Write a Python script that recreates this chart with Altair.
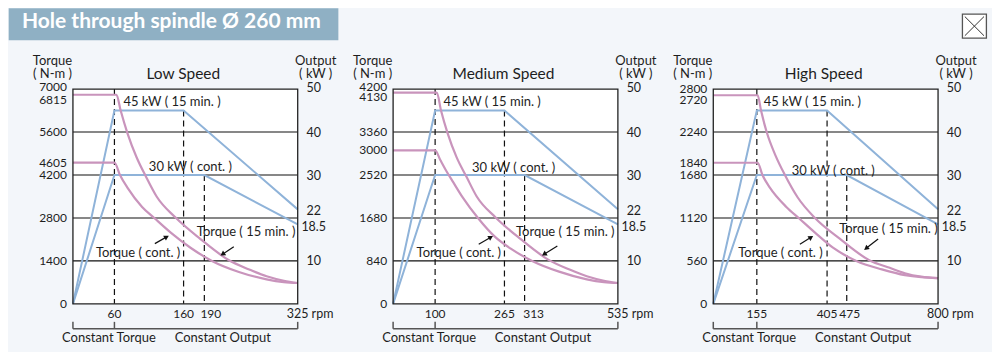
import math
import altair as alt
import pandas as pd

# ---------------- data ----------------
panel_titles = ["Low Speed", "Medium Speed", "High Speed"]
rpm_max = [325, 535, 800]
torque_max = [7000, 4200, 2800]
break_rpm = [60, 100, 155]

out15_rpm = [[0, 60, 160, 325], [0, 100, 265, 535], [0, 155, 405, 800]]
out15_kw = [0, 45, 45, 22]
outc_rpm = [[0, 60, 190, 325], [0, 100, 313, 535], [0, 155, 475, 800]]
outc_kw = [0, 30, 30, 18.5]

t15_rpm = [
    [0, 63, 69, 79, 92, 106, 121, 148, 184, 225, 255, 280, 305, 325],
    [0, 104, 114, 130, 151, 175, 199, 244, 303, 370, 420, 461, 502, 535],
    [0, 158, 170, 190, 222, 255, 300, 362, 450, 555, 628, 682, 740, 800],
]
t15_nm = [
    [6815, 6815, 6300, 5550, 4780, 4130, 3500, 2820, 2120, 1430, 1120, 900, 755, 680],
    [4130, 4130, 3780, 3330, 2870, 2480, 2100, 1690, 1270, 860, 670, 540, 453, 408],
    [2720, 2720, 2520, 2240, 1930, 1680, 1390, 1120, 850, 570, 470, 400, 355, 335],
]
tc_rpm = [
    [0, 60, 68, 79, 100, 118, 141, 170, 201, 240, 280, 305, 325],
    [0, 100, 112, 126, 143, 166, 202, 242, 280, 331, 395, 461, 502, 535],
    [0, 158, 175, 202, 260, 305, 361, 426, 509, 600, 682, 740, 800],
]
tc_nm = [
    [4605, 4605, 4200, 3780, 3160, 2790, 2330, 1830, 1400, 1040, 800, 710, 680],
    [3000, 3000, 2818, 2609, 2380, 2076, 1678, 1314, 1080, 840, 630, 480, 426, 408],
    [1840, 1840, 1680, 1512, 1264, 1116, 932, 732, 560, 450, 375, 348, 335],
]

torque_ticks = [[0, 1400, 2800, 4200, 5600], [0, 840, 1680, 2520, 3360], [0, 560, 1120, 1680, 2240]]
torque_grid = [[1400, 2800, 4200, 5600], [840, 1680, 2520, 3360], [560, 1120, 1680, 2240]]
torque_flat15 = [6815, 4130, 2720]
torque_flatc = [4605, 3000, 1840]
output_ticks = [10, 30, 40]
output_top = 50
output_end = [22, 18.5]
x_ticks = [[60, 160], [100, 265], [155, 405]]
x_ticks_third = [190, 313, 475]

banner_title = "Hole through spindle Ø 260 mm"

# ---------------- style ----------------
W, H = 225, 215
BLUE = "#8fb3d9"
PINK = "#c994bc"
BG = "#f3f6fa"
BANNER = "#8fb0c4"
FONT = "Lato"
TXT = "#1e1e1e"
TICK_FS = 12

one = pd.DataFrame({"k": [0]})


def vtext(text, x, y, align="center", size=13, weight="normal", color=TXT):
    return alt.Chart(one).mark_text(
        text=text, align=align, baseline="middle", font=FONT,
        fontSize=size, fontWeight=weight, color=color,
    ).encode(x=alt.value(x), y=alt.value(y))


def vrule(x, y, x2, y2, color="#111", width=1.2):
    return alt.Chart(one).mark_rule(color=color, strokeWidth=width).encode(
        x=alt.value(x), y=alt.value(y), x2=alt.value(x2), y2=alt.value(y2))


def arrow(tail, head):
    (tx, ty), (hx, hy) = tail, head
    ang = math.degrees(math.atan2(hy - ty, hx - tx)) % 360
    L = math.hypot(hx - tx, hy - ty)
    ux, uy = (hx - tx) / L, (hy - ty) / L
    line = vrule(tx, ty, hx - 3 * ux, hy - 3 * uy, width=1.2)
    tip = alt.Chart(one).mark_point(
        shape="triangle-right", filled=True, size=32, color="#111",
        angle=round(ang, 1), opacity=1,
    ).encode(x=alt.value(hx - 2.5 * ux), y=alt.value(hy - 2.5 * uy))
    return [line, tip]


lab30 = [(76, 78), (79, 78.5), (78.5, 82)]
lab_t15 = [(124, 142.7), (123, 142.7), (126, 140)]
lab_tc = [(23, 163.7), (23.5, 164.3), (25, 164.3)]
arr_c = [((82, 154.7), (96, 146.7)), ((85.7, 155.3), (100, 147)), ((86.7, 155.3), (100, 147))]
arr_15 = [((161, 157.7), (147.7, 166.7)), ((164.4, 157), (149, 166.7)), ((165, 150), (151, 161))]
top_dy = [-2.5, -2.5, 0]
flat_dy = [5.5, 4.5, 4.5]
third_dx = [6.5, 9, 3]


def panel(i):
    xs = alt.Scale(domain=[0, rpm_max[i]], nice=False, zero=True)
    ts = alt.Scale(domain=[0, torque_max[i]], nice=False, zero=True)
    ps = alt.Scale(domain=[0, 50], nice=False, zero=True)

    def X(f):
        return alt.X(f, type="quantitative", scale=xs, axis=None)

    def YT(f):
        return alt.Y(f, type="quantitative", scale=ts, axis=None)

    def YP(f):
        return alt.Y(f, type="quantitative", scale=ps, axis=None)

    layers = []
    if i == 0:
        layers.append(alt.Chart(one).mark_rect(color=BG).encode(
            x=alt.value(-64.3), x2=alt.value(919.7), y=alt.value(-81), y2=alt.value(263)))
        layers.append(alt.Chart(one).mark_rect(color=BANNER).encode(
            x=alt.value(-64.3), x2=alt.value(265.7), y=alt.value(-81), y2=alt.value(-49)))
        layers.append(vtext(banner_title, -51, -67.3, align="left", size=21,
                            weight="bold", color="white"))

    # plot background
    layers.append(alt.Chart(one).mark_rect(color="#ffffff").encode(
        x=alt.value(0), x2=alt.value(W), y=alt.value(0), y2=alt.value(H)))

    # grid lines
    layers.append(alt.Chart(pd.DataFrame({"v": torque_grid[i]})).mark_rule(
        color="#111", strokeWidth=1.1).encode(y=YT("v"), x=alt.value(0), x2=alt.value(W)))

    # dashed verticals
    dash = pd.DataFrame({"x": [break_rpm[i], out15_rpm[i][2], outc_rpm[i][2]],
                         "top": [output_top, out15_kw[2], outc_kw[2]]})
    layers.append(alt.Chart(dash).mark_rule(color="#111", strokeWidth=1.2, strokeDash=[6, 4]).encode(
        x=X("x"), y=YP("top"), y2=alt.value(H)))

    # output lines
    pw = pd.DataFrame({
        "rpm": out15_rpm[i] + outc_rpm[i],
        "kw": out15_kw + outc_kw,
        "s": ["15"] * 4 + ["c"] * 4,
        "o": list(range(4)) + list(range(4)),
    })
    layers.append(alt.Chart(pw).mark_line(color=BLUE, strokeWidth=2).encode(
        x=X("rpm"), y=YP("kw"), detail="s:N", order="o:Q"))

    # torque curves
    tq = pd.DataFrame({
        "rpm": t15_rpm[i] + tc_rpm[i],
        "nm": t15_nm[i] + tc_nm[i],
        "s": ["15"] * len(t15_rpm[i]) + ["c"] * len(tc_rpm[i]),
        "o": list(range(len(t15_rpm[i]))) + list(range(len(tc_rpm[i]))),
    })
    layers.append(alt.Chart(tq).mark_line(color=PINK, strokeWidth=2.2, interpolate="monotone").encode(
        x=X("rpm"), y=YT("nm"), detail="s:N", order="o:Q"))

    # frame
    layers.append(alt.Chart(one).mark_rect(fillOpacity=0, stroke="#222", strokeWidth=1.3).encode(
        x=alt.value(0), x2=alt.value(W), y=alt.value(0), y2=alt.value(H)))

    # left labels
    lt = pd.DataFrame({"v": torque_ticks[i] + [torque_flatc[i]]})
    lt["t"] = lt["v"].astype(str)
    layers.append(alt.Chart(lt).mark_text(align="right", baseline="middle", font=FONT,
                                          fontSize=TICK_FS, color=TXT).encode(
        y=YT("v"), x=alt.value(-6), text="t:N"))
    for val, dy in [(torque_max[i], top_dy[i]), (torque_flat15[i], flat_dy[i])]:
        layers.append(alt.Chart(pd.DataFrame({"v": [val], "t": [str(val)]})).mark_text(
            align="right", baseline="middle", font=FONT, fontSize=TICK_FS, color=TXT, dy=dy).encode(
            y=YT("v"), x=alt.value(-6), text="t:N"))

    # right labels
    for vals, dy in [(output_ticks, 0.5), ([output_top], -1.5), ([output_end[0]], 1.5), ([output_end[1]], 3)]:
        d = pd.DataFrame({"v": vals, "t": [("%g" % v) for v in vals]})
        layers.append(alt.Chart(d).mark_text(align="center", baseline="middle", font=FONT,
                                             fontSize=12.5, color=TXT, dy=dy).encode(
            y=YP("v"), x=alt.value(W + 16), text="t:N"))

    # x labels
    xt = pd.DataFrame({"v": x_ticks[i], "t": [str(v) for v in x_ticks[i]]})
    layers.append(alt.Chart(xt).mark_text(align="center", baseline="middle", font=FONT,
                                          fontSize=TICK_FS, color=TXT).encode(
        x=X("v"), y=alt.value(225.5), text="t:N"))
    layers.append(alt.Chart(pd.DataFrame({"v": [x_ticks_third[i]], "t": [str(x_ticks_third[i])]})).mark_text(
        align="center", baseline="middle", font=FONT, fontSize=TICK_FS, color=TXT, dx=third_dx[i]).encode(
        x=X("v"), y=alt.value(225.5), text="t:N"))
    layers.append(alt.Chart(pd.DataFrame({"v": [rpm_max[i]], "t": ["%d rpm" % rpm_max[i]]})).mark_text(
        align="left", baseline="middle", font=FONT, fontSize=12.5, color=TXT, dx=-11).encode(
        x=X("v"), y=alt.value(225.5), text="t:N"))

    # bracket
    layers.append(vrule(0, 240, W, 240, color="#555", width=1.5))
    layers.append(vrule(0, 233, 0, 240, color="#555", width=1.5))
    layers.append(vrule(W, 233, W, 240, color="#555", width=1.5))
    layers.append(alt.Chart(pd.DataFrame({"b": [break_rpm[i]]})).mark_rule(color="#555", strokeWidth=1.5).encode(
        x=X("b"), y=alt.value(233), y2=alt.value(240)))
    layers.append(vtext("Constant Torque", 36, 249.5))
    layers.append(vtext("Constant Output", 150, 249.5))

    # headers
    layers.append(vtext("Torque", -20.5, -28))
    layers.append(vtext("( N-m )", -20.5, -15))
    layers.append(vtext("Output", W + 18, -28))
    layers.append(vtext("( kW )", W + 18, -15))
    layers.append(vtext(panel_titles[i], W / 2 - 2, -15, size=15.5))

    # annotations
    layers.append(vtext("45 kW ( 15 min. )", 50.5, 12.7, align="left"))
    layers.append(vtext("30 kW ( cont. )", lab30[i][0], lab30[i][1], align="left"))
    layers.append(vtext("Torque ( 15 min. )", lab_t15[i][0], lab_t15[i][1], align="left"))
    layers.append(vtext("Torque ( cont. )", lab_tc[i][0], lab_tc[i][1], align="left"))
    layers += arrow(*arr_c[i])
    layers += arrow(*arr_15[i])

    if i == 2:
        layers.append(alt.Chart(one).mark_rect(fill="#ffffff", stroke="#555", strokeWidth=1.3).encode(
            x=alt.value(249.4), x2=alt.value(273.4), y=alt.value(-75), y2=alt.value(-51)))
        layers.append(vrule(251.8, -72.6, 271, -53.4, color="#333", width=1))
        layers.append(vrule(271, -72.6, 251.8, -53.4, color="#333", width=1))

    return alt.layer(*layers).resolve_scale(y="independent").properties(width=W, height=H)


chart = alt.hconcat(panel(0), panel(1), panel(2), spacing=95.5, bounds="flush").configure_view(
    stroke=None).properties(background=BG, padding=0)

chart.save("out.html", embed_options={"renderer": "svg", "actions": False})
